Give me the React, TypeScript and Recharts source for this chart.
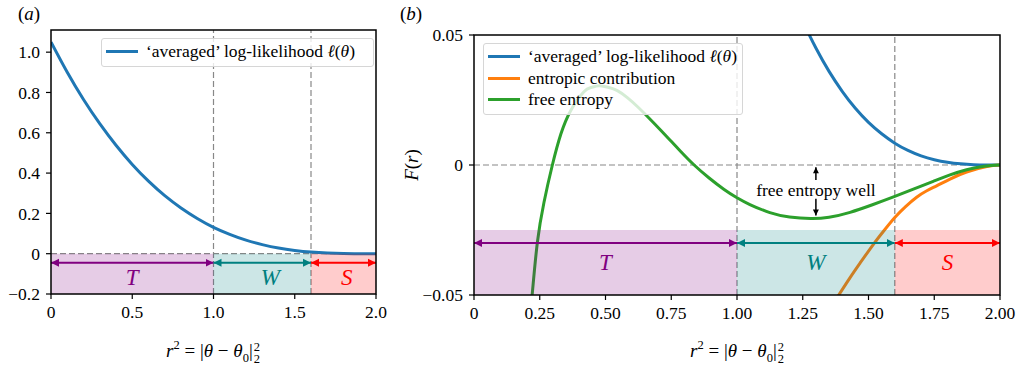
import React from 'react'
import { ComposedChart, Line, XAxis, YAxis, ReferenceLine, ReferenceArea, ReferenceDot } from 'recharts'

const FONT = '"Liberation Serif", "DejaVu Serif", serif'

// ---- panel (a) ----
const A_X = [0, 0.1, 0.2, 0.3, 0.4, 0.5, 0.6, 0.7, 0.8, 0.9, 1.0, 1.1, 1.2, 1.3, 1.4, 1.5, 1.6, 1.7, 1.8, 1.9, 2.0]
const A_LOGLIK = [1.05, 0.9, 0.765, 0.645, 0.538, 0.443, 0.36, 0.288, 0.227, 0.175, 0.131, 0.096, 0.067, 0.045, 0.028, 0.0164, 0.0084, 0.0035, 0.001, 0.0001, 0]
const A_X_TICKS = [0, 0.5, 1, 1.5, 2]
const A_X_LABELS = ['0', '0.5', '1.0', '1.5', '2.0']
const A_Y_TICKS = [-0.2, 0, 0.2, 0.4, 0.6, 0.8, 1.0]
const A_Y_LABELS = ['\u22120.2', '0', '0.2', '0.4', '0.6', '0.8', '1.0']
const A_Y_DOMAIN = [-0.2, 1.11]

// ---- panel (b) ----
const B_LOGLIK_X = [1.2, 1.25, 1.3, 1.35, 1.4, 1.45, 1.5, 1.55, 1.6, 1.65, 1.7, 1.75, 1.8, 1.85, 1.9, 1.95, 2.0]
const B_LOGLIK = [0.0672, 0.0554, 0.045, 0.036, 0.02835, 0.0218, 0.0164, 0.012, 0.0084, 0.0056, 0.0035, 0.00205, 0.00105, 0.00044, 0.00013, 0.00002, 0]
const B_ENTROPIC_X = [1.37, 1.385, 1.43, 1.468, 1.518, 1.56, 1.6, 1.64, 1.683, 1.72, 1.759, 1.81, 1.873, 1.95, 2.0]
const B_ENTROPIC = [-0.0527, -0.0503, -0.0433, -0.0377, -0.0306, -0.0251, -0.0202, -0.0161, -0.0124, -0.01, -0.008, -0.0054, -0.0027, -0.0006, 0]
const B_FREE_X = [0.21, 0.222, 0.241, 0.266, 0.298, 0.33, 0.368, 0.418, 0.445, 0.475, 0.51, 0.545, 0.583, 0.621, 0.665, 0.71, 0.748, 0.786, 0.837, 0.894, 0.951, 1.0, 1.049, 1.125, 1.2, 1.28, 1.35, 1.43, 1.515, 1.6, 1.673, 1.746, 1.81, 1.873, 1.94, 2.0]
const B_FREE = [-0.062, -0.049, -0.0297, -0.0144, 0, 0.0118, 0.021, 0.0282, 0.0298, 0.0305, 0.0299, 0.0286, 0.0259, 0.0225, 0.0181, 0.0134, 0.0093, 0.0052, 0, -0.005, -0.0094, -0.0126, -0.0152, -0.0183, -0.02, -0.0206, -0.0201, -0.0182, -0.0153, -0.0121, -0.0092, -0.0063, -0.0038, -0.0018, -0.0005, 0]
const B_X_TICKS = [0, 0.25, 0.5, 0.75, 1, 1.25, 1.5, 1.75, 2]
const B_X_LABELS = ['0', '0.25', '0.50', '0.75', '1.00', '1.25', '1.50', '1.75', '2.00']
const B_Y_TICKS = [-0.05, 0, 0.05]
const B_Y_LABELS = ['\u22120.05', '0', '0.05']
const B_Y_DOMAIN = [-0.05, 0.05]
const WELL_X = 1.3
const WELL_UP = [-0.0058, -0.0009]
const WELL_DOWN = [-0.013, -0.0194]
const WELL_TEXT_Y = -0.0096

// regions T / W / S
const BOUNDS = [0, 1, 1.6, 2]
const REGION_NAMES = ['T', 'W', 'S']
const REGION_LABEL_X_A = [0.5, 1.35, 1.82]
const REGION_LABEL_X_B = [0.5, 1.3, 1.8]
const A_SHADE_TOP = 0
const A_ARROW_Y = -0.045
const A_LABEL_Y = -0.12
const B_SHADE_TOP = -0.025
const B_ARROW_Y = -0.03
const B_LABEL_Y = -0.0376

const COLORS = ['#800080', '#008080', '#ff0000']
const MARKER_IDS = ['arrT', 'arrW', 'arrS']
const BLUE = '#1f77b4'
const ORANGE = '#ff7f0e'
const GREEN = '#2ca02c'
const DASH = '#888888'
const FS = 17.5

const pts = (xs: number[], ys: number[]) => xs.map((x, i) => ({ x, y: ys[i] }))
const fmt = (ticks: number[], labels: string[]) => (v: number) => labels[ticks.indexOf(v)] ?? String(v)

const tickStyle = { fill: '#000', fontSize: FS, fontFamily: FONT }
const tickLineStyle = { stroke: '#000', strokeWidth: 1.2 }

function TextLabel({ text, color, size, italic }: { text: string; color: string; size: number; italic?: boolean }) {
  return (props: any) => {
    const vb = props.viewBox
    return (
      <text x={vb.x + vb.width / 2} y={vb.y + vb.height / 2} textAnchor="middle" dominantBaseline="central"
        fill={color} fontSize={size} fontFamily={FONT} fontStyle={italic ? 'italic' : 'normal'}>{text}</text>
    )
  }
}

function Regions(shadeTop: number, yMin: number, arrowY: number, labelY: number, labelXs: number[]) {
  const out: React.ReactNode[] = []
  REGION_NAMES.forEach((name, i) => {
    out.push(<ReferenceArea key={'sh' + i} x1={BOUNDS[i]} x2={BOUNDS[i + 1]} y1={yMin} y2={shadeTop}
      fill={COLORS[i]} fillOpacity={0.2} stroke="none" zIndex={450} />)
  })
  REGION_NAMES.forEach((name, i) => {
    out.push(<Line key={'ar' + i} data={[{ x: BOUNDS[i], y: arrowY }, { x: BOUNDS[i + 1], y: arrowY }]} dataKey="y"
      type="linear" stroke={COLORS[i]} strokeWidth={2.2} dot={false} activeDot={false} isAnimationActive={false}
      markerStart={`url(#${MARKER_IDS[i]})`} markerEnd={`url(#${MARKER_IDS[i]})`} zIndex={460} />)
    out.push(<ReferenceDot key={'lb' + i} x={labelXs[i]} y={labelY} r={0} fill="none" stroke="none" zIndex={470}
      label={{ content: TextLabel({ text: name, color: COLORS[i], size: 23, italic: true }) }} />)
  })
  return out
}

function Legend({ left, top, width, rows }: { left: number; top: number; width: number; rows: { color: string; label: React.ReactNode }[] }) {
  return (
    <div style={{ position: 'absolute', left, top, width, padding: '2px 0 3px 0', background: 'rgba(255,255,255,0.8)',
      border: '1px solid #d6d6d6', borderRadius: 3, boxSizing: 'border-box', zIndex: 5 }}>
      {rows.map((r, i) => (
        <div key={i} style={{ display: 'flex', alignItems: 'center', height: 21.5, fontSize: FS }}>
          <div style={{ width: 32, height: 3, background: r.color, marginLeft: 4, marginRight: 8, flexShrink: 0 }} />
          <span style={{ whiteSpace: 'nowrap' }}>{r.label}</span>
        </div>
      ))}
    </div>
  )
}

const llLabel = <>&lsquo;averaged&rsquo; log-likelihood <i>&#8467;</i>(<i>&theta;</i>)</>

function XLabel({ cx }: { cx: number }) {
  return (
    <div style={{ position: 'absolute', left: cx - 120, width: 240, top: 338, textAlign: 'center', fontSize: 19, lineHeight: '26px', whiteSpace: 'nowrap' }}>
      <i>r</i><span style={{ fontSize: 12.5, position: 'relative', top: -8 }}>2</span> = |<i>&theta;</i> &minus; <i>&theta;</i>
      <span style={{ fontSize: 12.5, position: 'relative', top: 5 }}>0</span>|
      <span style={{ display: 'inline-flex', flexDirection: 'column', fontSize: 12.5, lineHeight: '12px', verticalAlign: 'middle', marginLeft: 1 }}>
        <span>2</span><span>2</span>
      </span>
    </div>
  )
}

function Markers() {
  return (
    <svg width={0} height={0} style={{ position: 'absolute' }}>
      <defs>
        {MARKER_IDS.map((id, i) => (
          <marker key={id} id={id} viewBox="0 0 10 10" refX={10} refY={5} markerWidth={8} markerHeight={9}
            markerUnits="userSpaceOnUse" orient="auto-start-reverse">
            <path d="M0,0 L10,5 L0,10 z" fill={COLORS[i]} />
          </marker>
        ))}
        <marker id="arrK" viewBox="0 0 10 10" refX={10} refY={5} markerWidth={7} markerHeight={6}
          markerUnits="userSpaceOnUse" orient="auto-start-reverse">
          <path d="M0,0 L10,5 L0,10 z" fill="#000" />
        </marker>
      </defs>
    </svg>
  )
}

function PanelA() {
  return (
    <ComposedChart width={400} height={330} margin={{ top: 30, right: 24, bottom: 6, left: 6 }}>
      <XAxis type="number" dataKey="x" domain={[0, 2]} ticks={A_X_TICKS} tickFormatter={fmt(A_X_TICKS, A_X_LABELS)}
        height={30} tickSize={5} tickMargin={7} axisLine={false} tickLine={tickLineStyle} tick={tickStyle} allowDataOverflow />
      <YAxis type="number" domain={A_Y_DOMAIN} ticks={A_Y_TICKS} tickFormatter={fmt(A_Y_TICKS, A_Y_LABELS)}
        width={45} tickSize={5} tickMargin={6} axisLine={false} tickLine={tickLineStyle} tick={tickStyle} allowDataOverflow />
      <ReferenceLine y={0} stroke={DASH} strokeDasharray="6 3" strokeWidth={1.2} zIndex={300} />
      <ReferenceLine x={1} stroke={DASH} strokeDasharray="6 3" strokeWidth={1.2} zIndex={300} />
      <ReferenceLine x={1.6} stroke={DASH} strokeDasharray="6 3" strokeWidth={1.2} zIndex={300} />
      <Line data={pts(A_X, A_LOGLIK)} dataKey="y" type="natural" stroke={BLUE} strokeWidth={3} dot={false} activeDot={false} isAnimationActive={false} zIndex={400} />
      {Regions(A_SHADE_TOP, A_Y_DOMAIN[0], A_ARROW_Y, A_LABEL_Y, REGION_LABEL_X_A)}
      <ReferenceArea x1={0} x2={2} y1={A_Y_DOMAIN[0]} y2={A_Y_DOMAIN[1]} fill="none" stroke="#000" strokeWidth={1.5} zIndex={700} />
    </ComposedChart>
  )
}

function PanelB() {
  return (
    <ComposedChart width={623} height={330} margin={{ top: 35, right: 23, bottom: 5, left: 14 }}>
      <XAxis type="number" dataKey="x" domain={[0, 2]} ticks={B_X_TICKS} tickFormatter={fmt(B_X_TICKS, B_X_LABELS)}
        height={30} tickSize={5} tickMargin={7} axisLine={false} tickLine={tickLineStyle} tick={tickStyle} allowDataOverflow />
      <YAxis type="number" domain={B_Y_DOMAIN} ticks={B_Y_TICKS} tickFormatter={fmt(B_Y_TICKS, B_Y_LABELS)}
        width={60} tickSize={5} tickMargin={6} axisLine={false} tickLine={tickLineStyle} tick={tickStyle} allowDataOverflow />
      <ReferenceLine y={0} stroke={DASH} strokeDasharray="6 3" strokeWidth={1.2} zIndex={300} />
      <ReferenceLine x={1} stroke={DASH} strokeDasharray="6 3" strokeWidth={1.2} zIndex={300} />
      <ReferenceLine x={1.6} stroke={DASH} strokeDasharray="6 3" strokeWidth={1.2} zIndex={300} />
      <Line data={pts(B_LOGLIK_X, B_LOGLIK)} dataKey="y" type="natural" stroke={BLUE} strokeWidth={3} dot={false} activeDot={false} isAnimationActive={false} zIndex={400} />
      <Line data={pts(B_ENTROPIC_X, B_ENTROPIC)} dataKey="y" type="natural" stroke={ORANGE} strokeWidth={3} dot={false} activeDot={false} isAnimationActive={false} zIndex={400} />
      <Line data={pts(B_FREE_X, B_FREE)} dataKey="y" type="natural" stroke={GREEN} strokeWidth={3} dot={false} activeDot={false} isAnimationActive={false} zIndex={400} />
      {Regions(B_SHADE_TOP, B_Y_DOMAIN[0], B_ARROW_Y, B_LABEL_Y, REGION_LABEL_X_B)}
      <Line data={[{ x: WELL_X, y: WELL_UP[0] }, { x: WELL_X, y: WELL_UP[1] }]} dataKey="y" type="linear" stroke="#000" strokeWidth={1.5}
        dot={false} activeDot={false} isAnimationActive={false} markerEnd="url(#arrK)" zIndex={480} />
      <Line data={[{ x: WELL_X, y: WELL_DOWN[0] }, { x: WELL_X, y: WELL_DOWN[1] }]} dataKey="y" type="linear" stroke="#000" strokeWidth={1.5}
        dot={false} activeDot={false} isAnimationActive={false} markerEnd="url(#arrK)" zIndex={480} />
      <ReferenceDot x={WELL_X} y={WELL_TEXT_Y} r={0} fill="none" stroke="none" zIndex={490}
        label={{ content: TextLabel({ text: 'free entropy well', color: '#000', size: FS }) }} />
      <ReferenceArea x1={0} x2={2} y1={B_Y_DOMAIN[0]} y2={B_Y_DOMAIN[1]} fill="none" stroke="#000" strokeWidth={1.5} zIndex={700} />
    </ComposedChart>
  )
}

export default function App() {
  return (
    <div style={{ position: 'absolute', left: 0, top: 0, width: 1023, height: 365, background: '#fff', fontFamily: FONT, color: '#000', overflow: 'hidden' }}>
      <Markers />
      <div style={{ position: 'absolute', left: 0, top: 0 }}><PanelA /></div>
      <div style={{ position: 'absolute', left: 400, top: 0 }}><PanelB /></div>
      <div style={{ position: 'absolute', left: 18, top: 3, fontSize: 19 }}>(<i>a</i>)</div>
      <div style={{ position: 'absolute', left: 400, top: 3, fontSize: 19 }}>(<i>b</i>)</div>
      <div style={{ position: 'absolute', left: 412, top: 165, transform: 'translate(-50%, -50%) rotate(-90deg)', fontSize: 19, whiteSpace: 'nowrap' }}>
        <i>F</i>(<i>r</i>)
      </div>
      <XLabel cx={213} />
      <XLabel cx={737} />
      <Legend left={101} top={38} width={273} rows={[{ color: BLUE, label: llLabel }]} />
      <Legend left={483} top={43} width={260} rows={[
        { color: BLUE, label: llLabel },
        { color: ORANGE, label: 'entropic contribution' },
        { color: GREEN, label: 'free entropy' },
      ]} />
    </div>
  )
}
